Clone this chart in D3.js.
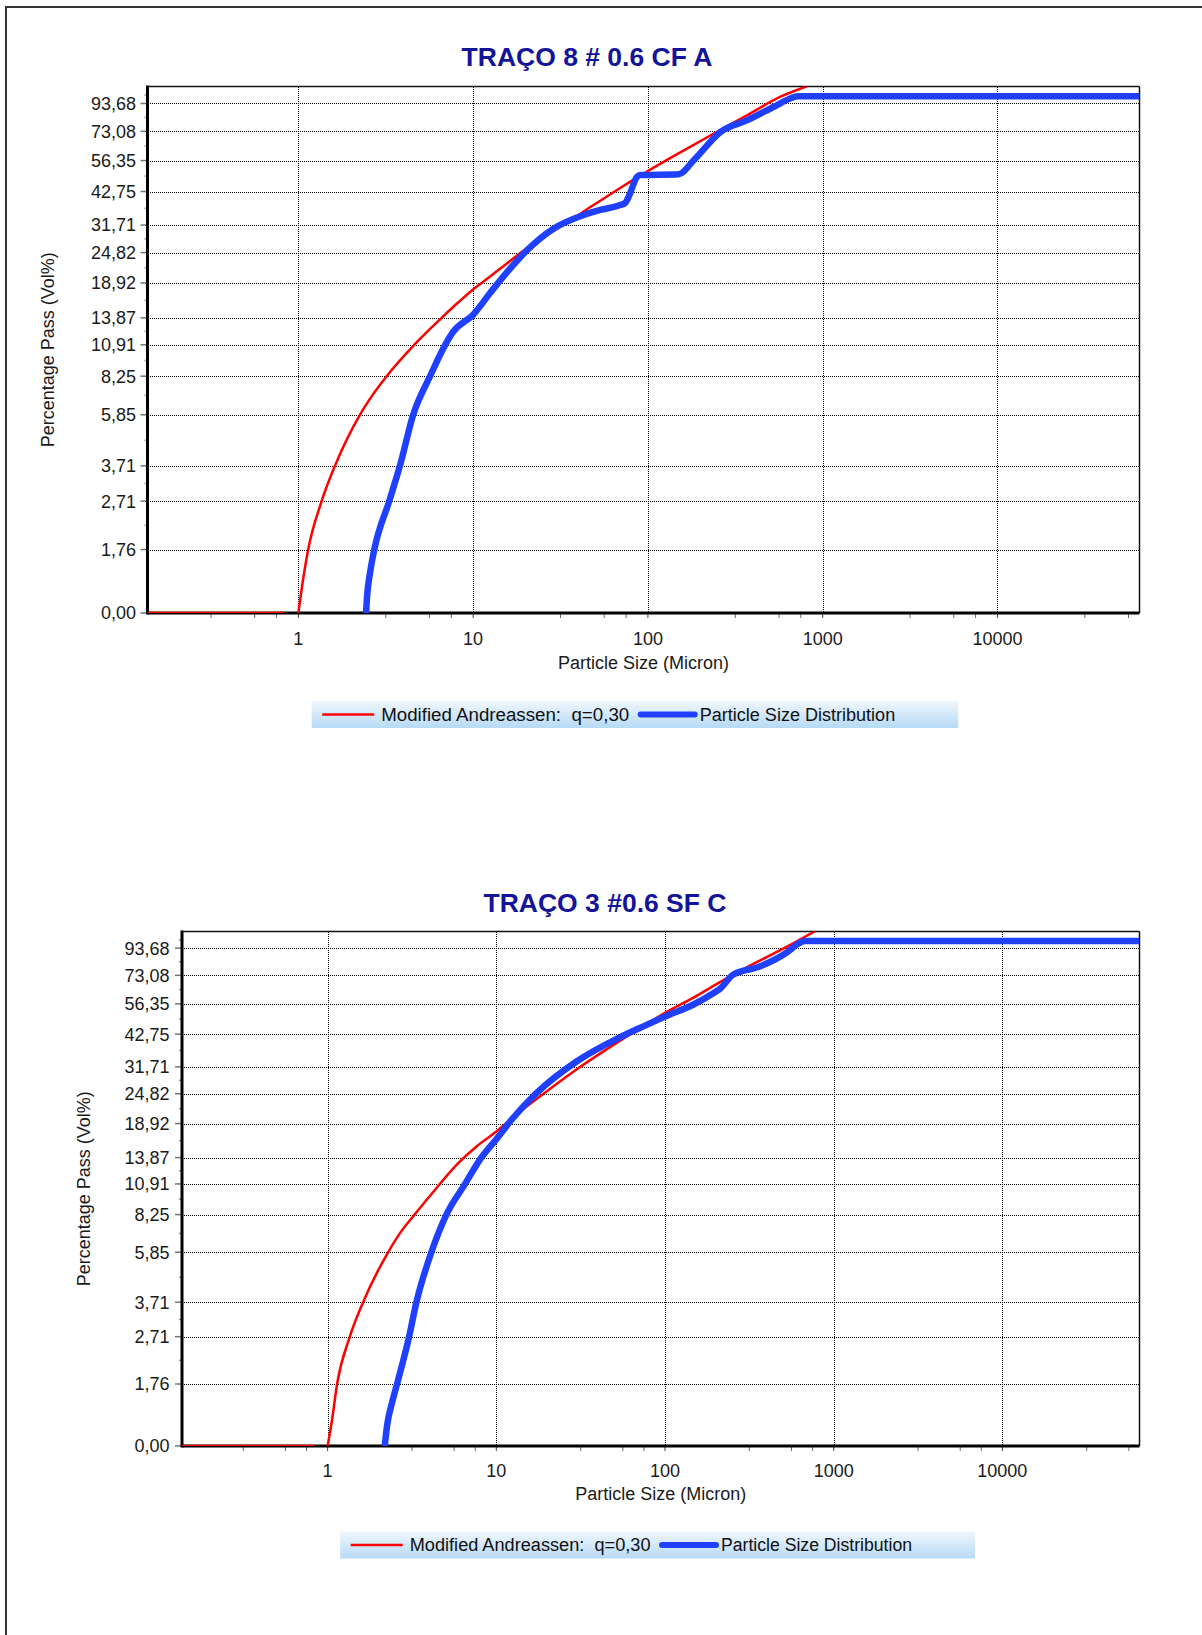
<!DOCTYPE html>
<html><head><meta charset="utf-8">
<script src="https://cdn.jsdelivr.net/npm/d3@7"></script>
<style>
html,body{margin:0;padding:0;background:#fff;}
svg{display:block;}
text{font-family:"Liberation Sans",Arial,sans-serif;}
</style></head><body>
<svg id="c" width="1202" height="1635"></svg>
<script>
// ---------- data ----------
const chartTitles = ["TRAÇO 8 # 0.6 CF A", "TRAÇO 3 #0.6 SF C"];
const xAxisTitle = "Particle Size (Micron)";
const yAxisTitle = "Percentage Pass (Vol%)";
const seriesNames = ["Modified Andreassen:  q=0,30", "Particle Size Distribution"];

const xTickValues = [1, 10, 100, 1000, 10000];
const xTickLabels = ["1", "10", "100", "1000", "10000"];
const yTickValues = [0, 1.76, 2.71, 3.71, 5.85, 8.25, 10.91, 13.87, 18.92, 24.82, 31.71, 42.75, 56.35, 73.08, 93.68];
const yTickLabels = ["0,00", "1,76", "2,71", "3,71", "5,85", "8,25", "10,91", "13,87", "18,92", "24,82", "31,71", "42,75", "56,35", "73,08", "93,68"];
const xDomain = [0.137, 65000];
const yDomain = [1, 109];

// Chart 1 (TRAÇO 8) — Modified Andreassen model (null = gap)
const model1Size = [0.137, 0.82, null, 1, 1.043, 1.138, 1.359, 1.619, 2.25, 2.68, 3.20, 4.6, 6.6, 8.2, 10, 10.97, 15.6, 18.6, 25.3, 32.9, 48.9, 69.4, 81.1, 100, 153.3, 238.6, 371, 574, 805];
const model1Pass = [0, 0, null, 0, 1.23, 1.76, 2.71, 3.71, 5.85, 7.03, 8.25, 10.91, 13.87, 15.9, 17.87, 18.75, 22.5, 24.7, 28.45, 31.8, 37.9, 44.1, 47.1, 51.3, 60.6, 71.7, 84.5, 99.5, 109];
// Chart 1 — measured particle size distribution
const psd1Size = [2.44, 2.47, 2.58, 2.72, 3.31, 3.81, 4.54, 5.67, 6.92, 7.70, 10, 12.54, 15.6, 20.3, 28.8, 42.9, 53.4, 69.4, 74.4, 77.6, 86.8, 90.5, 150.1, 183.4, 260.9, 371, 525.8, 656, 717, 65000];
const psd1Pass = [0, 1.15, 1.45, 1.76, 2.71, 3.71, 5.85, 8.25, 10.91, 12.27, 14.27, 17.35, 20.8, 25.3, 30.7, 34.7, 36.3, 37.9, 38.7, 40.8, 48.8, 49.5, 49.9, 56.6, 72.8, 80.8, 91.0, 98.1, 100, 100];

// Chart 2 (TRAÇO 3) — Modified Andreassen model
const model2Size = [0.137, 0.826, null, 1, 1.055, 1.138, 1.354, 1.623, 2.283, 2.68, 3.28, 4.31, 5.81, 7.63, 10, 12.56, 18.05, 31.2, 53.9, 70.9, 100, 146.7, 201, 246, 364, 522, 770];
const model2Pass = [0, 0, null, 0, 1.23, 1.76, 2.71, 3.71, 5.85, 6.95, 8.25, 10.3, 12.98, 15.35, 17.6, 20.0, 24.15, 31.6, 40.2, 45.1, 51.9, 59.5, 67.3, 72.7, 83.5, 94.5, 109];
// Chart 2 — measured particle size distribution
const psd2Size = [2.18, 2.25, 2.42, 2.58, 3.04, 3.36, 4.12, 5.06, 6.53, 7.98, 10, 12.56, 17.3, 29.9, 53.9, 70.9, 100, 146.7, 201, 210, 253, 364, 522, 626, 674, 65000];
const psd2Pass = [0, 1.2, 1.5, 1.76, 2.71, 3.71, 5.85, 8.25, 10.91, 13.59, 16.4, 19.9, 24.96, 33.3, 41.5, 45.2, 50.2, 55.9, 63.1, 64.3, 73.5, 79.2, 89.6, 98.1, 100, 100];

// ---------- layout ----------
const layouts = [
  {left:147.5, top:86.5, right:1139.5, bottom:613, titleX:587, titleY:66, yLabRight:136, yTitleX:47,
   xTickY:644.5, xTitleY:669, legX:311.7, legY:701, legText:[248, 195.5]},
  {left:182, top:931.5, right:1139.5, bottom:1446, titleX:605, titleY:911.5, yLabRight:169.5, yTitleX:83.5,
   xTickY:1476.5, xTitleY:1500, legX:340.2, legY:1531.5, legText:[240.8, 191]}
];
const series = [
  [{x:model1Size, y:model1Pass}, {x:psd1Size, y:psd1Pass}],
  [{x:model2Size, y:model2Pass}, {x:psd2Size, y:psd2Pass}]
];

const svg = d3.select("#c");
const defs = svg.append("defs");
const grad = defs.append("linearGradient").attr("id","legGrad").attr("x1",0).attr("y1",0).attr("x2",0).attr("y2",1);
grad.append("stop").attr("offset","0%").attr("stop-color","#f0f7fe");
grad.append("stop").attr("offset","100%").attr("stop-color","#b7daf5");

// page frame
svg.append("line").attr("x1",6).attr("y1",7).attr("x2",1202).attr("y2",7).attr("stroke","#333").attr("stroke-width",2);
svg.append("line").attr("x1",6).attr("y1",6).attr("x2",6).attr("y2",1635).attr("stroke","#333").attr("stroke-width",2);

const FONT = 18;

layouts.forEach((L, ci) => {
  const g = svg.append("g");
  const x = d3.scaleLog().domain(xDomain).range([L.left, L.right]);
  const y = d3.scaleLog().domain(yDomain).range([L.bottom, L.top]).clamp(true);

  const clipId = "clip" + ci;
  defs.append("clipPath").attr("id", clipId).append("rect")
    .attr("x", L.left).attr("y", L.top).attr("width", L.right - L.left).attr("height", L.bottom - L.top);

  // title
  g.append("text").attr("x", L.titleX).attr("y", L.titleY).attr("text-anchor","middle")
    .attr("font-size", 26.5).attr("font-weight","bold").attr("fill","#14149a").text(chartTitles[ci]);

  // grid (pixel-aligned dotted lines)
  const gx0 = Math.round(L.left), gx1 = Math.round(L.right), gy0 = Math.round(L.top), gy1 = Math.round(L.bottom);
  g.append("g").selectAll("line").data(yTickValues.slice(1)).join("line")
    .attr("x1", gx0).attr("x2", gx1)
    .attr("y1", d => Math.round(y(d)) + 0.5).attr("y2", d => Math.round(y(d)) + 0.5)
    .attr("stroke","#000").attr("stroke-width",1).attr("stroke-dasharray","1,1");
  g.append("g").selectAll("line").data(xTickValues).join("line")
    .attr("x1", d => Math.round(x(d)) + 0.5).attr("x2", d => Math.round(x(d)) + 0.5)
    .attr("y1", gy0).attr("y2", gy1)
    .attr("stroke","#000").attr("stroke-width",1).attr("stroke-dasharray","1,1");

  // minor x ticks
  const minorX = [];
  for (let k = -1; k <= 4; k++) [0.5, 0.75, 0.875].forEach(f => {
    const v = Math.pow(10, k + f);
    if (v > xDomain[0] && v < xDomain[1]) minorX.push(v);
  });
  g.append("g").selectAll("line").data(minorX).join("line")
    .attr("x1", d => x(d)).attr("x2", d => x(d)).attr("y1", L.bottom).attr("y2", L.bottom + 5)
    .attr("stroke","#666").attr("stroke-width",1);
  g.append("g").selectAll("line").data(xTickValues).join("line")
    .attr("x1", d => x(d)).attr("x2", d => x(d)).attr("y1", L.bottom).attr("y2", L.bottom + 5)
    .attr("stroke","#444").attr("stroke-width",1);

  // minor y ticks
  const minorY = [];
  for (let i = 1; i < yTickValues.length - 1; i++) minorY.push(Math.sqrt(yTickValues[i] * yTickValues[i + 1]));
  minorY.push(101);
  g.append("g").selectAll("line").data(minorY).join("line")
    .attr("x1", L.left - 3).attr("x2", L.left).attr("y1", d => y(d)).attr("y2", d => y(d))
    .attr("stroke","#8a9a9a").attr("stroke-width",1.5);
  g.append("g").selectAll("line").data(yTickValues).join("line")
    .attr("x1", L.left - 7).attr("x2", L.left).attr("y1", d => y(d)).attr("y2", d => y(d))
    .attr("stroke","#6a7a7a").attr("stroke-width",1.5);

  // tick labels
  g.append("g").selectAll("text").data(yTickValues).join("text")
    .attr("x", L.yLabRight).attr("y", d => y(d) + 6.4).attr("text-anchor","end")
    .attr("font-size", FONT).attr("fill","#1a1a1a").text((d, i) => yTickLabels[i]);
  g.append("g").selectAll("text").data(xTickValues).join("text")
    .attr("x", d => x(d)).attr("y", L.xTickY).attr("text-anchor","middle")
    .attr("font-size", FONT).attr("fill","#1a1a1a").text((d, i) => xTickLabels[i]);

  // axis titles
  g.append("text").attr("x", (L.left + L.right) / 2).attr("y", L.xTitleY).attr("text-anchor","middle")
    .attr("font-size", FONT).attr("fill","#1a1a1a").text(xAxisTitle);
  const cy = (L.top + L.bottom) / 2;
  g.append("text").attr("transform", `translate(${L.yTitleX + 6.5},${cy}) rotate(-90)`).attr("text-anchor","middle")
    .attr("font-size", FONT).attr("fill","#1a1a1a").text(yAxisTitle);

  // plot frame
  g.append("line").attr("x1", L.left).attr("x2", L.right).attr("y1", L.top).attr("y2", L.top).attr("stroke","#111").attr("stroke-width",1.5);
  g.append("line").attr("x1", L.right).attr("x2", L.right).attr("y1", L.top).attr("y2", L.bottom).attr("stroke","#111").attr("stroke-width",1.5);
  g.append("line").attr("x1", L.left).attr("x2", L.left).attr("y1", L.top - 1).attr("y2", L.bottom + 1.5).attr("stroke","#000").attr("stroke-width",3);
  g.append("line").attr("x1", L.left).attr("x2", L.right).attr("y1", L.bottom).attr("y2", L.bottom).attr("stroke","#000").attr("stroke-width",3);

  // series
  const colors = ["#ff0000", "#2040ff"];
  const widths = [2.5, 6.5];
  series[ci].forEach((s, si) => {
    const pts = s.x.map((v, i) => ({x: v, y: s.y[i]}));
    const line = d3.line().defined(d => d.x != null).x(d => x(d.x)).y(d => y(d.y)).curve(d3.curveMonotoneX);
    g.append("path").datum(pts).attr("clip-path", `url(#${clipId})`)
      .attr("d", line).attr("fill","none").attr("stroke", colors[si]).attr("stroke-width", widths[si])
      .attr("stroke-linejoin","round").attr("stroke-linecap", si ? "butt" : "round");
  });

  // legend
  const lg = g.append("g");
  const box = lg.append("rect").attr("x", L.legX).attr("y", L.legY).attr("height", 27).attr("fill","url(#legGrad)");
  const ly = L.legY + 13.5;
  let cx = L.legX + 10.5;
  lg.append("line").attr("x1", cx).attr("x2", cx + 52).attr("y1", ly).attr("y2", ly).attr("stroke", colors[0]).attr("stroke-width", 2.5);
  cx += 59;
  lg.append("text").attr("x", cx).attr("y", ly + 6.3).attr("font-size", FONT).attr("fill","#111")
    .attr("xml:space","preserve").style("white-space","pre")
    .attr("textLength", L.legText[0]).attr("lengthAdjust","spacingAndGlyphs").text(seriesNames[0]);
  cx += L.legText[0] + 11.5;
  lg.append("line").attr("x1", cx).attr("x2", cx + 54).attr("y1", ly).attr("y2", ly).attr("stroke", colors[1]).attr("stroke-width", 6).attr("stroke-linecap","round");
  cx += 59;
  lg.append("text").attr("x", cx).attr("y", ly + 6.3).attr("font-size", FONT).attr("fill","#111")
    .attr("textLength", L.legText[1]).attr("lengthAdjust","spacingAndGlyphs").text(seriesNames[1]);
  cx += L.legText[1] + 63;
  box.attr("width", cx - L.legX);
});
</script>
</body></html>
